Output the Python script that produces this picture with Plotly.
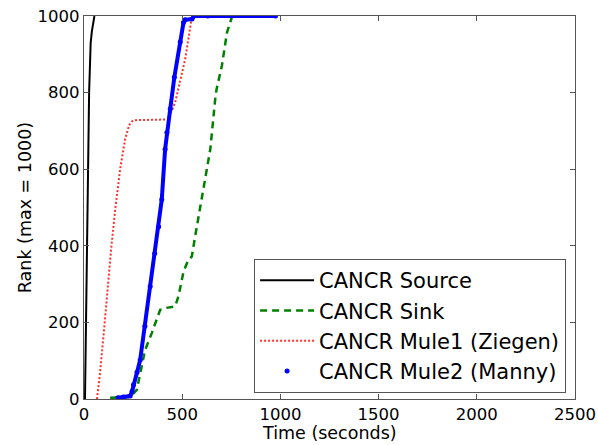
import plotly.graph_objects as go

# Rank progress over time for each CANCR node (rank capped at 1000)
source_t = [5, 10, 17, 26, 34, 40, 53]
source_rank = [0, 200, 520, 800, 930, 960, 1000]

sink_t = [133, 180, 235, 269, 311, 345, 388, 420, 464, 481, 507, 532, 549, 566, 600, 643, 668, 675, 702, 728, 755]
sink_rank = [3, 4, 5, 24, 128, 172, 233, 238, 242, 268, 333, 364, 372, 425, 521, 652, 783, 809, 870, 957, 1000]

mule1_t = [66, 80, 102, 120, 138, 160, 184, 209, 230, 245, 260, 430, 440, 464, 490, 515, 541, 550]
mule1_rank = [0, 60, 180, 290, 390, 500, 600, 678, 715, 725, 728, 730, 745, 774, 830, 887, 971, 1000]

mule2_t = [173, 200, 235, 245, 252, 270, 286, 310, 337, 360, 380, 396, 413, 422, 439, 460, 490, 507, 515, 550, 560, 630, 975]
mule2_rank = [3, 5, 8, 20, 37, 70, 102, 190, 294, 380, 450, 521, 652, 696, 757, 840, 932, 984, 990, 992, 1000, 1000, 1000]

x_ticks = [0, 500, 1000, 1500, 2000, 2500]
y_ticks = [0, 200, 400, 600, 800, 1000]

fig = go.Figure()
fig.add_trace(go.Scatter(x=source_t, y=source_rank, mode="lines", name="CANCR Source",
                         line=dict(color="black", width=2)))
fig.add_trace(go.Scatter(x=sink_t, y=sink_rank, mode="lines", name="CANCR Sink",
                         line=dict(color="#008000", width=2.5, dash="7px,5px")))
fig.add_trace(go.Scatter(x=mule1_t, y=mule1_rank, mode="lines", name="CANCR Mule1 (Ziegen)",
                         line=dict(color="#ff3030", width=2, dash="2px,2px")))
fig.add_trace(go.Scatter(x=mule2_t, y=mule2_rank, mode="lines", showlegend=False,
                         legendgroup="m2", line=dict(color="blue", width=4), hoverinfo="skip"))
fig.add_trace(go.Scatter(x=mule2_t, y=mule2_rank, mode="markers", name="CANCR Mule2 (Manny)",
                         legendgroup="m2", marker=dict(color="blue", size=5)))

axis_common = dict(
    showgrid=False, zeroline=False, showline=True, mirror="ticks",
    linecolor="#555", linewidth=1.2, ticks="inside", ticklen=5,
    tickcolor="#555", tickwidth=1, automargin=False,
    tickfont=dict(family="DejaVu Sans", size=16.5, color="black"),
)

fig.update_layout(
    template="none",
    width=598, height=445,
    margin=dict(l=84, r=23, t=16, b=46, pad=0),
    paper_bgcolor="white", plot_bgcolor="white",
    xaxis=dict(range=[0, 2500], tickvals=x_ticks, **axis_common),
    yaxis=dict(range=[0, 1000], tickvals=y_ticks,
               title=dict(text="Rank (max = 1000)", font=dict(family="DejaVu Sans", size=17.5, color="black"),
                          standoff=1),
               **axis_common),
    legend=dict(x=0.346, y=0.366, xanchor="left", yanchor="top",
                bordercolor="#555", borderwidth=1.2, bgcolor="white",
                font=dict(family="DejaVu Sans", size=21, color="black"),
                tracegroupgap=0, itemwidth=54),
    showlegend=True,
    annotations=[dict(text="Time (seconds)", xref="paper", yref="paper", x=0.5, y=-0.089,
                      xanchor="center", yanchor="middle", showarrow=False,
                      font=dict(family="DejaVu Sans", size=17.5, color="black"))],
)

fig.write_html("out.html")
